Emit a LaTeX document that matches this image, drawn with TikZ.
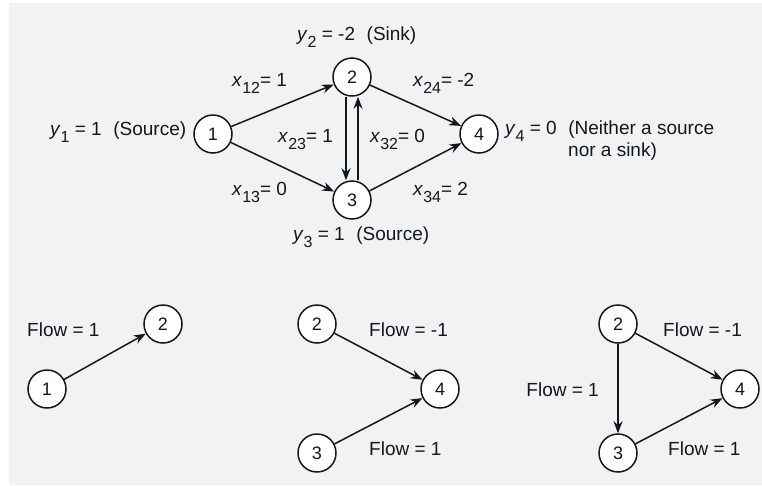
\documentclass[tikz,border=0pt]{standalone}
\usepackage{fontspec}
\setmainfont{Liberation Sans}
\usetikzlibrary{arrows.meta}
\definecolor{panel}{HTML}{F2F2F2}
\definecolor{ink}{HTML}{111820}
% lowered subscript set in a slightly smaller size
\newcommand{\lowsub}[1]{\raisebox{-0.42em}{\fontsize{16}{16}\selectfont #1}}
\newcommand{\var}[2]{\textit{#1}\lowsub{#2}}
\begin{document}
\begin{tikzpicture}[x=1pt,y=-1pt,
  vertex/.style={circle,draw=ink,line width=1.5pt,fill=white,minimum size=38pt,inner sep=0pt,
    text=ink,font=\fontsize{18}{18}\selectfont},
  arc/.style={draw=ink,line width=1.5pt,-{Stealth[length=12pt,width=9pt]}},
  lbl/.style={inner sep=0pt,anchor=base west,text=ink,font=\fontsize{19}{19}\selectfont}]
\useasboundingbox (0,0) rectangle (762,485);
\fill[panel] (9,3) rectangle (762,485);

% network with supplies and arc flows
\node[vertex] (n1) at (213,134) {1};
\node[vertex] (n2) at (352,77) {2};
\node[vertex] (n3) at (352,200) {3};
\node[vertex] (n4) at (479,134) {4};

\draw[arc] (n1) -- (n2);
\draw[arc] (n1) -- (n3);
\draw[arc] (n2) -- (n4);
\draw[arc] (n3) -- (n4);
\draw[arc] ([xshift=-6pt]n2.south) -- ([xshift=-6pt]n3.north);
\draw[arc] ([xshift=6pt]n3.north) -- ([xshift=6pt]n2.south);

\node[lbl] (ly2) at (297,40) {\var{y}{2} = -2\,\, (Sink)};
\node[lbl] (ly1) at (50,135) {\var{y}{1} = 1\,\, (Source)};
\node[lbl] (ly3) at (293,240) {\var{y}{3} = 1\,\, (Source)};
\node[lbl] (ly4) at (505,134) {\var{y}{4} = 0\,\, (Neither a source};
\node[lbl] (ly4b) at (568,156) {nor a sink)};

\node[lbl] (x12) at (232,86) {\var{x}{12}= 1};
\node[lbl] (x24) at (413,86) {\var{x}{24}= -2};
\node[lbl] (x23) at (278,142) {\var{x}{23}= 1};
\node[lbl] (x32) at (370,142) {\var{x}{32}= 0};
\node[lbl] (x13) at (232,195) {\var{x}{13}= 0};
\node[lbl] (x34) at (413,195) {\var{x}{34}= 2};

% single path 1 -> 2
\node[vertex] (a1) at (47,389) {1};
\node[vertex] (a2) at (163,324) {2};
\draw[arc] (a1) -- (a2);
\node[lbl] (fa) at (27,336) {Flow = 1};

% two arcs into node 4
\node[vertex] (b2) at (317,324) {2};
\node[vertex] (b4) at (440,389) {4};
\node[vertex] (b3) at (317,453) {3};
\draw[arc] (b2) -- (b4);
\draw[arc] (b3) -- (b4);
\node[lbl] (fb1) at (369,336) {Flow = -1};
\node[lbl] (fb2) at (369,455) {Flow = 1};

% cycle 2 -> 3 -> 4 against 2 -> 4
\node[vertex] (c2) at (618,324) {2};
\node[vertex] (c4) at (740,389) {4};
\node[vertex] (c3) at (618,453) {3};
\draw[arc] (c2) -- (c3);
\draw[arc] (c2) -- (c4);
\draw[arc] (c3) -- (c4);
\node[lbl] (fc1) at (663,336) {Flow = -1};
\node[lbl] (fc2) at (668,455) {Flow = 1};
\node[lbl,anchor=base east] (fc3) at (599,396) {Flow = 1};
\end{tikzpicture}
\end{document}
